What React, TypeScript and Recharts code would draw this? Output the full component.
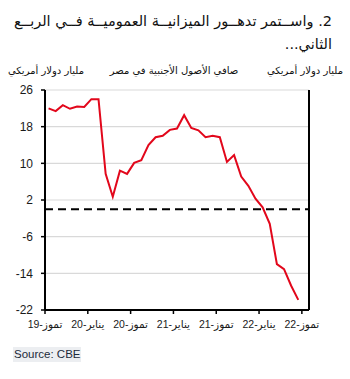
import React from "react";
import {
  LineChart,
  Line,
  XAxis,
  YAxis,
  CartesianGrid,
  ReferenceLine,
} from "recharts";

// monthly, Jul-19 .. Jun-22 (Jul-22 slot left empty like the original)
const values = [
  22.0, 21.4, 22.7, 21.9, 22.4, 22.3, 24.0, 24.0, 7.7, 2.7, 8.4, 7.7, 10.1,
  10.7, 14.0, 15.7, 16.0, 17.3, 17.6, 20.5, 17.7, 17.2, 15.7, 16.0, 15.7, 10.3,
  11.8, 7.1, 5.1, 2.3, 0.4, -3.2, -12.0, -13.1, -16.7, -19.8,
];
const tickLabels = [
  "تموز-19",
  "يناير-20",
  "تموز-20",
  "يناير-21",
  "تموز-21",
  "يناير-22",
  "تموز-22",
];
const yTicks = [-22, -14, -6, 2, 10, 18, 26];

const data = values.map((v, i) => ({ x: i + 0.5, v }));
const xTicks = tickLabels.map((_, i) => i * 6);

const FONT = "'Liberation Sans', 'DejaVu Sans', sans-serif";
const AR_FONT = "'DejaVu Sans', sans-serif";
const tickStyle = { fill: "#1a1a1a", fontSize: 12, fontFamily: FONT };

export default function App() {
  return (
    <div
      style={{
        position: "absolute",
        left: 0,
        top: 0,
        width: 350,
        height: 379,
        background: "#fff",
        overflow: "hidden",
      }}
    >
      {/* title */}
      <div
        style={{
          position: "absolute",
          right: 18,
          top: 10,
          direction: "rtl",
          textAlign: "right",
          whiteSpace: "nowrap",
          fontFamily: AR_FONT,
          fontSize: 14.5,
          lineHeight: "23px",
          color: "#111",
        }}
      >
        <div>2. واســتمر تدهــور الميزانيــة العموميــة فــي الربــع</div>
        <div>الثاني...</div>
      </div>

      {/* axis titles */}
      <div
        style={{
          position: "absolute",
          top: 65,
          left: 0,
          width: 350,
          height: 16,
          fontFamily: AR_FONT,
          fontSize: 10,
          color: "#111",
          whiteSpace: "nowrap",
        }}
      >
        <span style={{ position: "absolute", left: 8 }}>مليار دولار أمريكي</span>
        <div
          style={{
            position: "absolute",
            left: 94,
            width: 160,
            textAlign: "center",
          }}
        >
          صافي الأصول الأجنبية في مصر
        </div>
        <span style={{ position: "absolute", right: 7 }}>مليار دولار أمريكي</span>
      </div>

      <div style={{ position: "absolute", left: 0, top: 0 }}>
        <LineChart
          width={350}
          height={379}
          data={data}
          margin={{ top: 90, right: 4, bottom: 39, left: 8 }}
        >
          <CartesianGrid
            yAxisId="left"
            vertical={false}
            stroke="#d9d9d9"
            strokeWidth={1.2}
          />
          <XAxis
            dataKey="x"
            type="number"
            domain={[0, 37]}
            ticks={xTicks}
            interval={0}
            tickFormatter={(t) => tickLabels[t / 6]}
            axisLine={{ stroke: "#000", strokeWidth: 2 }}
            tickLine={{ stroke: "#000", strokeWidth: 1.5 }}
            tickSize={4}
            tickMargin={7}
            tick={{ fill: "#1a1a1a", fontSize: 10.5, fontFamily: FONT }}
            height={30}
          />
          <YAxis
            yAxisId="left"
            orientation="left"
            domain={[-22, 26]}
            ticks={yTicks}
            interval={0}
            width={37}
            axisLine={{ stroke: "#000", strokeWidth: 2 }}
            tickLine={{ stroke: "#000", strokeWidth: 1.5 }}
            tickSize={4}
            tickMargin={8}
            tick={tickStyle}
          />
          <YAxis
            yAxisId="right"
            orientation="right"
            domain={[-22, 26]}
            ticks={yTicks}
            interval={0}
            width={37}
            axisLine={{ stroke: "#000", strokeWidth: 2 }}
            tickLine={{ stroke: "#000", strokeWidth: 1.5 }}
            tickSize={4}
            tickMargin={7}
            tick={tickStyle}
          />
          <ReferenceLine
            yAxisId="left"
            y={0}
            stroke="#000"
            strokeWidth={2}
            strokeDasharray="8 5"
          />
          <Line
            yAxisId="left"
            dataKey="v"
            stroke="#e2071b"
            strokeWidth={2}
            dot={false}
            isAnimationActive={false}
          />
        </LineChart>
      </div>

      {/* source */}
      <div
        style={{
          position: "absolute",
          left: 13,
          top: 347,
          padding: "0 1px",
          lineHeight: "15px",
          background: "#eceef1",
          fontFamily: FONT,
          fontSize: 11.5,
          color: "#1c2a3a",
        }}
      >
        Source: CBE
      </div>
    </div>
  );
}
